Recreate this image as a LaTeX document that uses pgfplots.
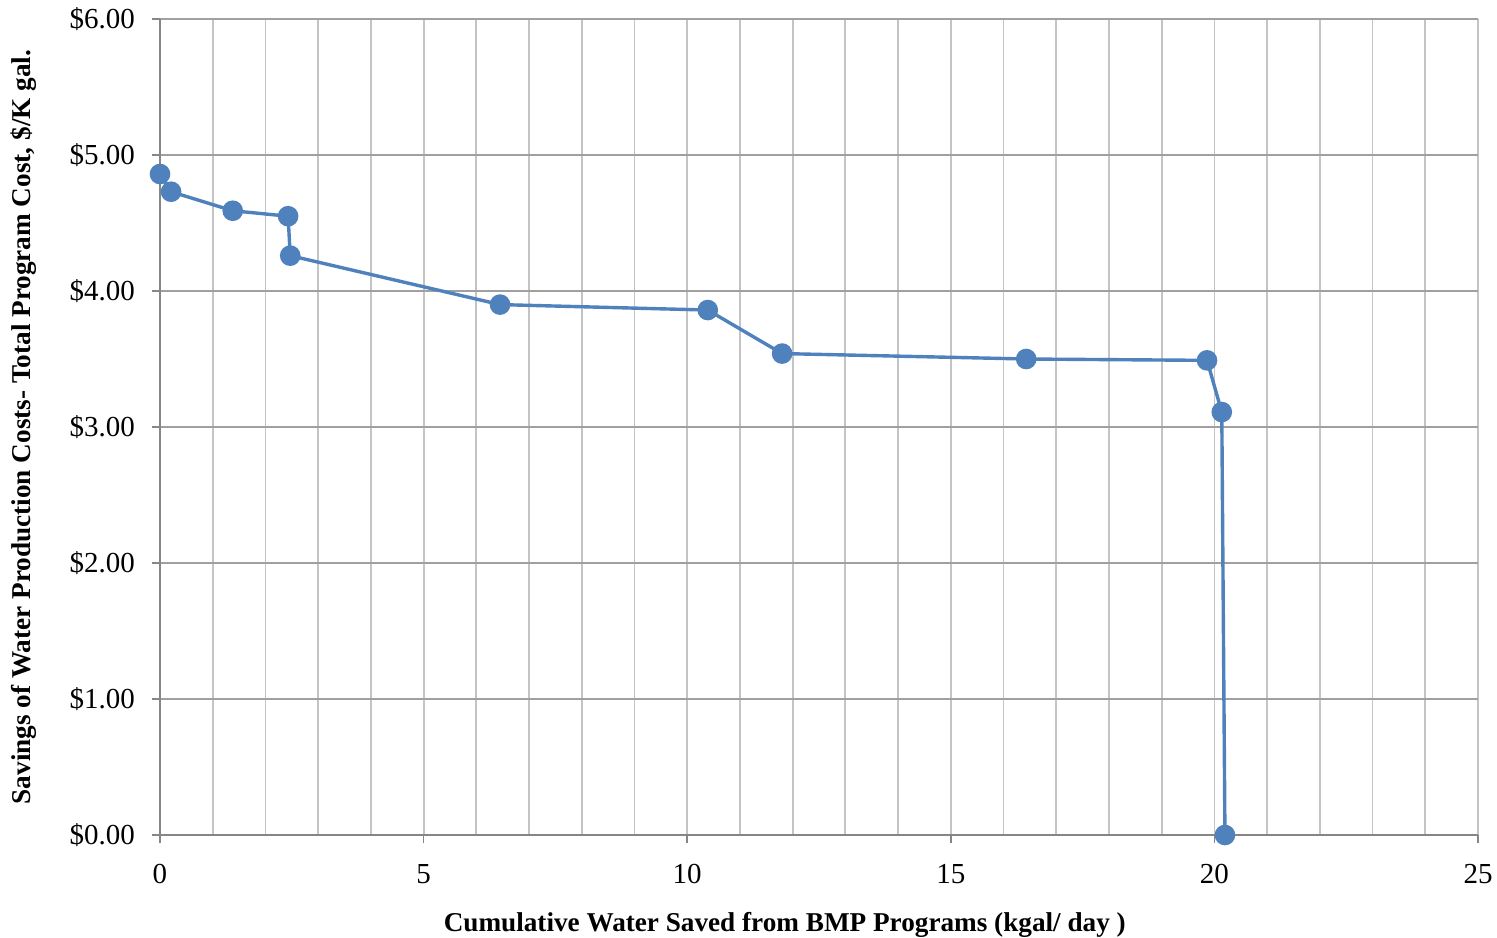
\documentclass[border=0pt]{standalone}
\usepackage{pgfplots}
\pgfplotsset{compat=1.18}
\usepackage{fontspec}
\setmainfont{Liberation Serif}
\definecolor{exblue}{HTML}{4F81BD}
\definecolor{hgrid}{HTML}{A0A0A0}
\definecolor{vgrid}{HTML}{C4C4C4}
\definecolor{axgray}{HTML}{868686}
\begin{document}
\begin{tikzpicture}
\begin{axis}[name=ax,
  scale only axis, width=659pt, height=408pt,
  xmin=0, xmax=25, ymin=0, ymax=6,
  xtick={0,5,...,25}, minor x tick num=4,
  ytick={0,1,...,6},
  axis lines=left, axis line style={-, draw=axgray, line width=0.8pt},
  tick align=outside, major tick length=4pt, minor tick length=0pt,
  tick style={draw=axgray, line width=0.8pt},
  xmajorgrids, xminorgrids, ymajorgrids,
  x grid style={draw=vgrid, line width=0.9pt},
  minor x grid style={draw=vgrid, line width=0.9pt},
  y grid style={draw=hgrid, line width=0.9pt},
  /pgf/number format/assume math mode=true,
  ticklabel style={font=\fontsize{14.5}{16}\selectfont},
  yticklabel={\$\pgfmathprintnumber[fixed,fixed zerofill,precision=2]{\tick}},
  xticklabel style={yshift=-7pt},
  yticklabel style={xshift=-5pt},
  xlabel={\textbf{Cumulative Water Saved from BMP Programs (kgal/ day )}},
  ylabel={\textbf{Savings of Water Production Costs- Total Program Cost, \$/K gal.}},
  label style={font=\fontsize{13.6}{15}\selectfont},
  xlabel style={at={(axis description cs:0.474,0)}, anchor=north, yshift=-35pt},
  ylabel style={at={(axis description cs:0,0.5)}, anchor=south, xshift=0pt, yshift=58pt},
  clip=false,
]
\addplot[color=exblue, line width=1.7pt, mark=*, mark size=4.3pt, mark options={fill=exblue, draw=exblue}]
coordinates {
(0.00,4.86)
(0.21,4.73)
(1.38,4.59)
(2.43,4.55)
(2.47,4.26)
(6.45,3.90)
(10.39,3.86)
(11.80,3.54)
(16.43,3.50)
(19.86,3.49)
(20.14,3.11)
(20.20,0.00)
};
\end{axis}
\pgfresetboundingbox
\useasboundingbox ([xshift=-80pt,yshift=-51pt]ax.south west) rectangle ([xshift=9.5pt,yshift=9.5pt]ax.north east);
\end{tikzpicture}
\end{document}
